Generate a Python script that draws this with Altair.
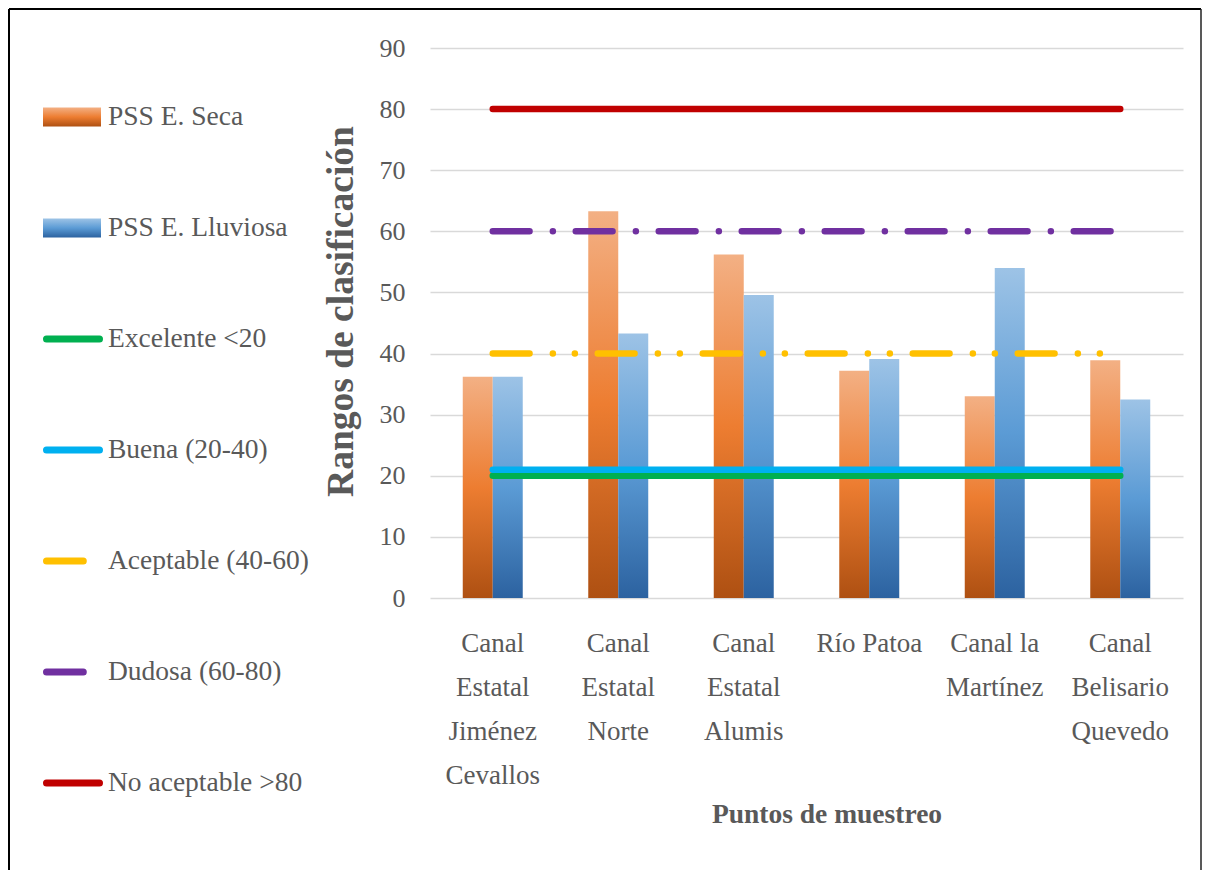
import altair as alt
import pandas as pd

# ---------------- data ----------------
puntos = [
    "Canal|Estatal|Jiménez|Cevallos",
    "Canal|Estatal|Norte",
    "Canal|Estatal|Alumis",
    "Río Patoa",
    "Canal la|Martínez",
    "Canal|Belisario|Quevedo",
]
series_barras = ["PSS E. Seca", "PSS E. Lluviosa"]
pss_seca = [36.2, 63.3, 56.2, 37.2, 33.0, 38.9]
pss_lluviosa = [36.2, 43.3, 49.6, 39.1, 54.0, 32.5]

niveles = ["Excelente <20", "Buena (20-40)", "Aceptable (40-60)", "Dudosa (60-80)", "No aceptable >80"]
excelente = [20, 20, 20, 20, 20, 20]
buena = [21, 21, 21, 21, 21, 21]
aceptable = [40, 40, 40, 40, 40, 40]
dudosa = [60, 60, 60, 60, 60, 60]
no_aceptable = [80, 80, 80, 80, 80, 80]
ticks_y = [0, 10, 20, 30, 40, 50, 60, 70, 80, 90]
leyenda = series_barras + niveles

# ---------------- styles ----------------
FONT = "Liberation Serif"
GRAY = "#595959"
colores_niveles = ["#00B050", "#00B0F0", "#FFC000", "#7030A0", "#C00000"]
dash_niveles = [
    [1, 0],
    [1, 0],
    [36.8, 23.3, 0.001, 22, 0.001, 22.9],
    [36.8, 23.3, 0.001, 22.9],
    [1, 0],
]
grad_naranja = {
    "gradient": "linear", "x1": 0, "y1": 0, "x2": 0, "y2": 1,
    "stops": [
        {"offset": 0, "color": "#F3B084"},
        {"offset": 0.5, "color": "#ED7D31"},
        {"offset": 1, "color": "#AE5012"},
    ],
}
grad_azul = {
    "gradient": "linear", "x1": 0, "y1": 0, "x2": 0, "y2": 1,
    "stops": [
        {"offset": 0, "color": "#9DC3E6"},
        {"offset": 0.5, "color": "#5B9BD5"},
        {"offset": 1, "color": "#2C62A0"},
    ],
}

# ---------------- tables ----------------
rows = []
for p, a, b in zip(puntos, pss_seca, pss_lluviosa):
    rows.append({"punto": p, "serie": series_barras[0], "valor": a})
    rows.append({"punto": p, "serie": series_barras[1], "valor": b})
df_bars = pd.DataFrame(rows)

rows = []
for nivel, vals in zip(niveles, [excelente, buena, aceptable, dudosa, no_aceptable]):
    for p, v in zip(puntos, vals):
        rows.append({"punto": p, "nivel": nivel, "valor": v})
df_lines = pd.DataFrame(rows)

df_leg = pd.DataFrame({"etiqueta": leyenda, "nivel": leyenda})

color_scale = alt.Scale(domain=niveles, range=colores_niveles)
dash_scale = alt.Scale(domain=niveles, range=dash_niveles)

# ---------------- main panel ----------------
x_enc = alt.X(
    "punto:N",
    sort=puntos,
    scale=alt.Scale(paddingInner=0.522, paddingOuter=0.261),
    axis=alt.Axis(
        title="Puntos de muestreo",
        labelExpr="split(datum.label, '|')",
        labelAngle=0,
        labelFont=FONT,
        labelFontSize=27,
        labelLineHeight=44,
        labelPadding=32,
        labelColor=GRAY,
        ticks=False,
        tickSize=0,
        domain=False,
        grid=False,
        titleFont=FONT,
        titleFontSize=27.5,
        titleFontWeight="bold",
        titleColor=GRAY,
        titleX=396.5,
        titleY=224,
        titleBaseline="alphabetic",
        titleAlign="center",
    ),
)
y_enc = alt.Y(
    "valor:Q",
    scale=alt.Scale(domain=[0, 90], nice=False),
    axis=alt.Axis(
        values=ticks_y,
        title="Rangos de clasificación",
        grid=True,
        gridColor="#D9D9D9",
        gridWidth=1.5,
        domain=False,
        ticks=False,
        tickSize=0,
        labelPadding=25,
        labelFont=FONT,
        labelFontSize=26,
        labelColor=GRAY,
        titleFont=FONT,
        titleFontSize=37.5,
        titleFontWeight="bold",
        titleColor=GRAY,
        titleX=-78,
        titleY=263,
        titleAngle=270,
        titleBaseline="alphabetic",
        titleAlign="center",
    ),
)

uno = pd.DataFrame({"k": [0]})
frame_top = alt.Chart(uno).mark_rule(color="black", strokeWidth=2).encode(
    x=alt.value(-421), x2=alt.value(771), y=alt.value(-39)
)
frame_left = alt.Chart(uno).mark_rule(color="black", strokeWidth=2).encode(
    x=alt.value(-421), y=alt.value(-39), y2=alt.value(822)
)
frame_right = alt.Chart(uno).mark_rule(color="#222222", strokeWidth=1.5).encode(
    x=alt.value(771), y=alt.value(-39), y2=alt.value(822)
)

bars = alt.Chart(df_bars).mark_bar().encode(
    x=x_enc,
    xOffset=alt.XOffset("serie:N", sort=series_barras,
                        scale=alt.Scale(paddingInner=0, paddingOuter=0)),
    y=y_enc,
    fill=alt.condition(alt.datum.serie == series_barras[0],
                       alt.value(grad_naranja), alt.value(grad_azul)),
)

lines = alt.Chart(df_lines).mark_line(strokeWidth=6.5, strokeCap="round").encode(
    x=x_enc,
    y=y_enc,
    color=alt.Color("nivel:N", scale=color_scale, legend=None),
    strokeDash=alt.StrokeDash("nivel:N", scale=dash_scale, legend=None),
    detail="nivel:N",
)

main = alt.layer(frame_top, frame_left, frame_right, bars, lines).properties(
    width=753, height=550
)

# ---------------- legend panel ----------------
y_leg = alt.Y(
    "etiqueta:N",
    sort=leyenda,
    scale=alt.Scale(type="band", range=[13.5, 790.5], paddingInner=0, paddingOuter=0),
    axis=None,
)
leg_rect = alt.Chart(df_leg).transform_filter(
    alt.FieldOneOfPredicate(field="etiqueta", oneOf=series_barras)
).mark_bar(height=19).encode(
    x=alt.value(0),
    x2=alt.value(58),
    y=y_leg,
    fill=alt.condition(alt.datum.etiqueta == series_barras[0],
                       alt.value(grad_naranja), alt.value(grad_azul)),
)
leg_rule = alt.Chart(df_leg).transform_filter(
    alt.FieldOneOfPredicate(field="etiqueta", oneOf=niveles)
).mark_rule(strokeWidth=7, strokeCap="round").encode(
    x=alt.value(3.5),
    x2=alt.value(56.5),
    y=y_leg,
    color=alt.Color("nivel:N", scale=color_scale, legend=None),
    strokeDash=alt.StrokeDash("nivel:N", scale=dash_scale, legend=None),
)
leg_text = alt.Chart(df_leg).mark_text(
    align="left", baseline="middle", font=FONT, fontSize=27.5, color=GRAY
).encode(
    x=alt.value(65),
    y=y_leg,
    text="etiqueta:N",
)
legend_panel = alt.layer(leg_rect, leg_rule, leg_text).properties(width=280, height=550)

chart = alt.hconcat(legend_panel, main, spacing=107, bounds="flush").properties(
    padding={"left": 0, "top": 0, "right": 0, "bottom": 0},
    background="white",
).configure_view(strokeWidth=0)

chart.save("out.html", embed_options={"renderer": "svg", "actions": False})
